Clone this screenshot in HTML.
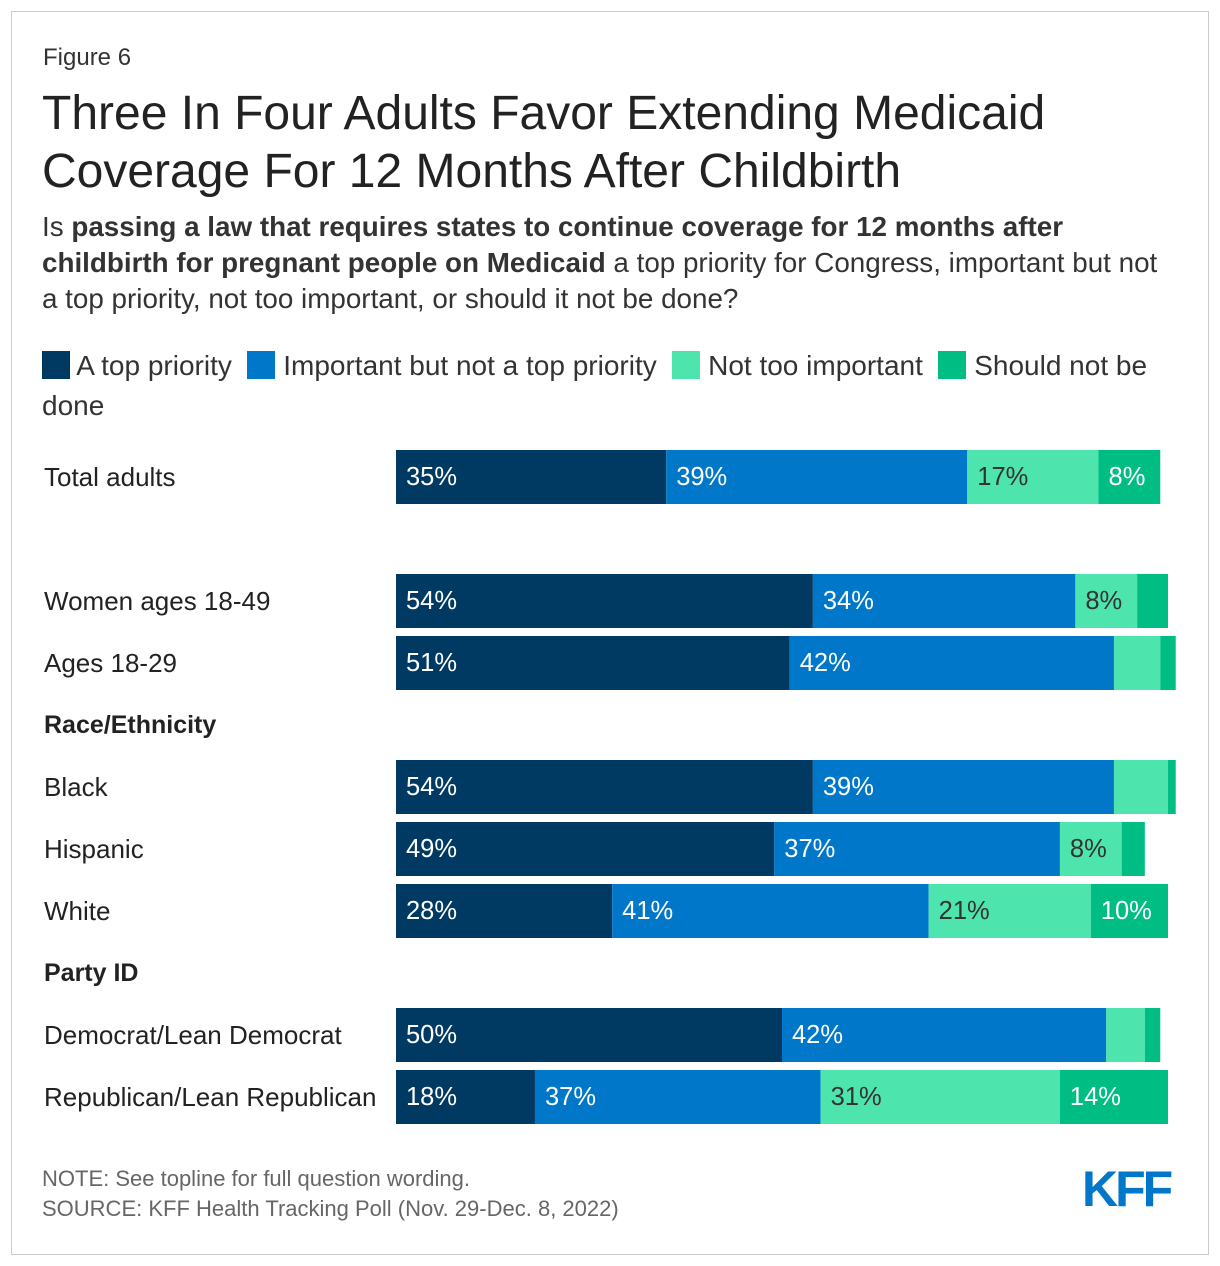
<!DOCTYPE html>
<html><head><meta charset="utf-8"><style>
body{margin:0;background:#fff;font-family:"Liberation Sans",Arial,sans-serif;}
#frame{position:absolute;left:11px;top:11px;width:1196px;height:1242px;border:1px solid #ccc;}
.t{position:absolute;color:#222;}
</style></head><body>
<div id="frame"></div>
<div class="t" style="left:43px;top:44px;font-size:24px;color:#333">Figure 6</div>
<div class="t" style="left:42px;top:85px;font-size:48px;line-height:58px;color:#222">Three In Four Adults Favor Extending Medicaid<br>Coverage For 12 Months After Childbirth</div>
<div class="t" style="left:42px;top:209px;font-size:27.8px;line-height:36px;color:#333;width:1160px;white-space:nowrap">Is <b>passing a law that requires states to continue coverage for 12 months after<br>childbirth for pregnant people on Medicaid</b> a top priority for Congress, important but not<br>a top priority, not too important, or should it not be done?</div>
<div class="t" style="left:42px;top:346px;font-size:28px;line-height:40px;color:#333;width:1125px">
<span><span style="display:inline-block;width:28px;height:28px;background:#003a63;vertical-align:-4px"></span> A top priority</span>&nbsp;
<span><span style="display:inline-block;width:28px;height:28px;background:#0077c8;vertical-align:-4px"></span> Important but not a top priority</span>&nbsp;
<span><span style="display:inline-block;width:28px;height:28px;background:#4ee4ad;vertical-align:-4px"></span> Not too important</span>&nbsp;
<span><span style="display:inline-block;width:28px;height:28px;background:#00bd84;vertical-align:-4px"></span> Should not be done</span>
</div>
<svg id="chart" width="1220" height="1266" style="position:absolute;left:0;top:0"></svg>
<div class="t" style="left:42px;top:1164px;font-size:22px;line-height:30px;color:#666">NOTE: See topline for full question wording.<br>SOURCE: KFF Health Tracking Poll (Nov. 29-Dec. 8, 2022)</div>
<div class="t" style="left:1082px;top:1160px;font-size:50px;font-weight:bold;color:#0077c8;letter-spacing:-3px">KFF</div>
<script>
const categories=["Total adults","Women ages 18-49","Ages 18-29","Black","Hispanic","White","Democrat/Lean Democrat","Republican/Lean Republican"];
const topPriority=[35,54,51,54,49,28,50,18];
const important=[39,34,42,39,37,41,42,37];
const notTooImportant=[17,8,6,7,8,21,5,31];
const shouldNotBeDone=[8,4,2,1,3,10,2,14];
const rowCenters=[477,601,663,787,849,911,1035,1097];
const headers=[["Race/Ethnicity",725],["Party ID",973]];
const colors=["#003a63","#0077c8","#4ee4ad","#00bd84"];
const textColors=["#fff","#fff","#333","#fff"];
const series=[topPriority,important,notTooImportant,shouldNotBeDone];
const x0=396, pxPer=7.72, bh=54;
const x=v=>v*pxPer;
const svg=document.getElementById('chart');
const NS="http://www.w3.org/2000/svg";
function txt(s,xx,yy,opt){const t=document.createElementNS(NS,'text');t.textContent=s;t.setAttribute('x',xx);t.setAttribute('y',yy);t.setAttribute('font-size',opt.size||26);t.setAttribute('font-family','"Liberation Sans",Arial,sans-serif');t.setAttribute('dominant-baseline','central');t.setAttribute('fill',opt.fill||'#222');if(opt.bold)t.setAttribute('font-weight','bold');svg.appendChild(t);return t;}
categories.forEach((c,i)=>{
  const cy=rowCenters[i];
  const l=txt(c,44,cy,{});
  
  
  let cur=x0;
  series.forEach((s,j)=>{
    const w=x(s[i]);
    const r=document.createElementNS(NS,'rect');
    r.setAttribute('x',cur);r.setAttribute('y',cy-bh/2);r.setAttribute('width',w);r.setAttribute('height',bh);r.setAttribute('fill',colors[j]);
    
    
    svg.appendChild(r);
    if(s[i]>=8){const v=txt(s[i]+'%',cur+10,cy,{fill:textColors[j],size:25.5});
      
      }
    cur+=w;
  });
});
headers.forEach(h=>{const t=txt(h[0],44,h[1],{bold:true,size:25});
  
  });
</script>
</body></html>
